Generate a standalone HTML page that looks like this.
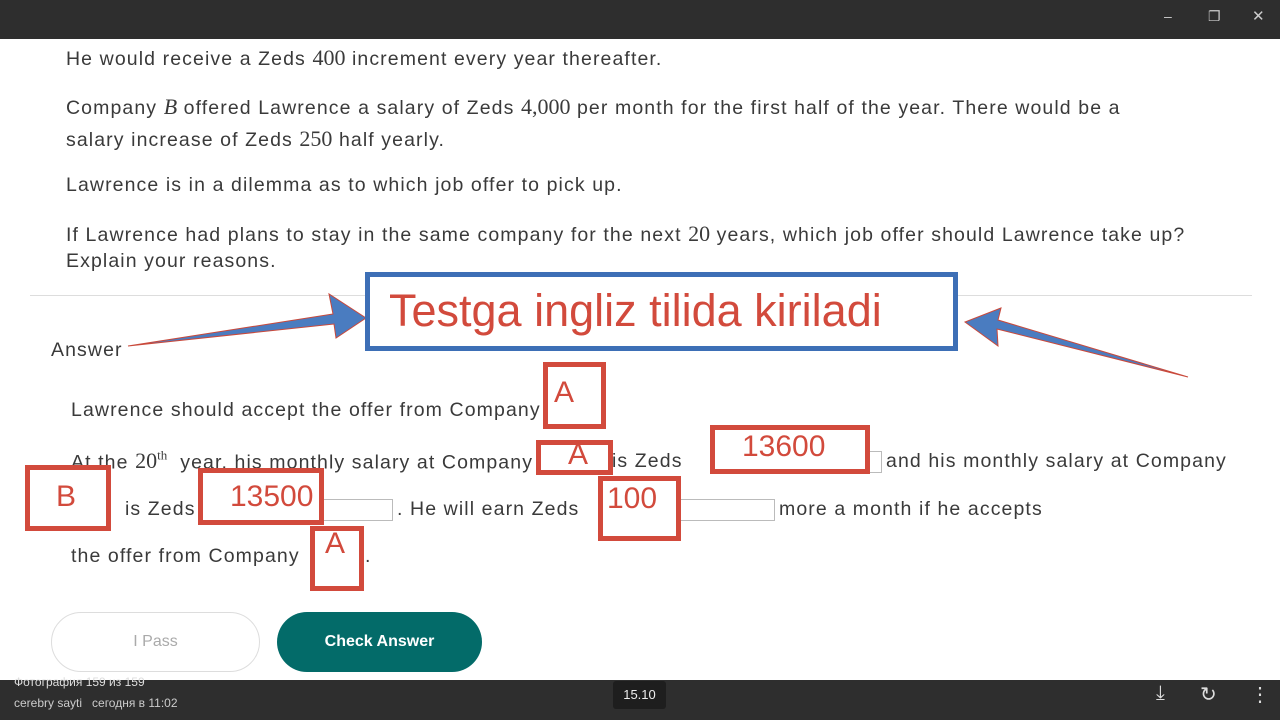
<!DOCTYPE html>
<html><head><meta charset="utf-8"><style>
*{margin:0;padding:0;box-sizing:border-box}
body{width:1280px;height:720px;overflow:hidden;background:#fff;position:relative;font-family:"Liberation Sans","Noto Sans CJK SC",sans-serif;color:#3a3a3a}
.a{position:absolute;white-space:nowrap}
.t{font-size:19.5px;letter-spacing:1.1px}
.m{font-family:"Liberation Serif",serif;font-size:22px;letter-spacing:0}
.rb{position:absolute;border:5px solid #d24a3c}
.rt{position:absolute;color:#d24a3c;font-size:30px;white-space:nowrap}
.in{position:absolute;border:1px solid #bbb;height:22px;background:#fff}
</style></head><body>
<div class="a" style="left:0;top:0;width:1280px;height:39px;background:#2e2e2e"></div>
<div class="a" style="left:1164px;top:8px;color:#ccc;font-size:14px">–</div>
<div class="a" style="left:1208px;top:8px;color:#ccc;font-size:14px">❐</div>
<div class="a" style="left:1252px;top:7px;color:#ccc;font-size:15px">✕</div>

<div class="a t" style="left:66px;top:45px">He would receive a Zeds <span class="m">400</span> increment every year thereafter.</div>
<div class="a t" style="left:66px;top:94px">Company <i class="m">B</i> offered Lawrence a salary of Zeds <span class="m">4,000</span> per month for the first half of the year. There would be a</div>
<div class="a t" style="left:66px;top:126px">salary increase of Zeds <span class="m">250</span> half yearly.</div>
<div class="a t" style="left:66px;top:174px">Lawrence is in a dilemma as to which job offer to pick up.</div>
<div class="a t" style="left:66px;top:221px">If Lawrence had plans to stay in the same company for the next <span class="m">20</span> years, which job offer should Lawrence take up?</div>
<div class="a t" style="left:66px;top:250px">Explain your reasons.</div>
<div class="a" style="left:30px;top:295px;width:1222px;height:1px;background:#ddd"></div>
<div class="a t" style="left:51px;top:339px">Answer</div>

<svg class="a" style="left:0;top:0" width="1280" height="720">
<polygon points="128,346 333,314 329,294 366,318 336,338 334,324" fill="#4a7cc0" stroke="#c9493b" stroke-width="1"/>
<polygon points="1188,377 997,329 998,346 965,322 1001,308 998,320" fill="#4a7cc0" stroke="#c9493b" stroke-width="1"/>
</svg>
<div class="a" style="left:365px;top:272px;width:593px;height:79px;border:5px solid #3d6fb6;background:#fff"></div>
<div class="a" style="left:389px;top:285px;font-size:45px;color:#d24a3c">Testga ingliz tilida kiriladi</div>

<div class="a t" style="left:71px;top:399px">Lawrence should accept the offer from Company</div>
<div class="a t" style="left:71px;top:448px">At the <span class="m">20<sup style="font-size:13px">th</sup></span> &nbsp;year, his monthly salary at Company</div>
<div class="a t" style="left:612px;top:450px">is Zeds</div>
<div class="a t" style="left:886px;top:450px">and his monthly salary at Company</div>
<div class="a t" style="left:125px;top:498px">is Zeds</div>
<div class="a t" style="left:397px;top:498px">. He will earn Zeds</div>
<div class="a t" style="left:779px;top:498px">more a month if he accepts</div>
<div class="a t" style="left:71px;top:545px">the offer from Company</div>
<div class="a t" style="left:365px;top:545px">.</div>

<div class="in" style="left:714px;top:451px;width:168px"></div>
<div class="in" style="left:210px;top:499px;width:183px"></div>
<div class="in" style="left:602px;top:499px;width:173px"></div>

<div class="rb" style="left:543px;top:362px;width:63px;height:67px;background:#fff"></div>
<div class="rt" style="left:554px;top:376px">A</div>
<div class="rb" style="left:536px;top:440px;width:77px;height:35px"></div>
<div class="rt" style="left:568px;top:438px">A</div>
<div class="rb" style="left:710px;top:425px;width:160px;height:49px;background:#fff"></div>
<div class="rt" style="left:742px;top:430px">13600</div>
<div class="rb" style="left:25px;top:465px;width:86px;height:66px;background:#fff"></div>
<div class="rt" style="left:56px;top:480px">B</div>
<div class="rb" style="left:198px;top:468px;width:126px;height:57px;background:#fff"></div>
<div class="rt" style="left:230px;top:480px">13500</div>
<div class="rb" style="left:598px;top:476px;width:83px;height:65px;background:#fff"></div>
<div class="rt" style="left:607px;top:482px">100</div>
<div class="rb" style="left:310px;top:526px;width:54px;height:65px;background:#fff"></div>
<div class="rt" style="left:325px;top:527px">A</div>

<div class="a" style="left:51px;top:612px;width:209px;height:60px;border:1px solid #ddd;border-radius:30px;text-align:center;line-height:58px;font-size:16px;color:#aaa">I Pass</div>
<div class="a" style="left:277px;top:612px;width:205px;height:60px;background:#036b69;border-radius:30px;text-align:center;line-height:60px;font-size:16px;font-weight:bold;color:#fff">Check Answer</div>

<div class="a" style="left:0;top:680px;width:1280px;height:40px;background:#2e2e2e"></div>
<div class="a" style="left:14px;top:675px;font-size:12px;color:#ddd">Фотография 159 из 159</div>
<div class="a" style="left:14px;top:696px;font-size:12px;color:#ccc">cerebry sayti &nbsp;&nbsp;сегодня в 11:02</div>
<div class="a" style="left:613px;top:681px;width:53px;height:28px;background:#1e1e1e;border-radius:3px;color:#eee;font-size:13px;text-align:center;line-height:28px">15.10</div>
<div class="a" style="left:1156px;top:682px;color:#ddd;font-size:20px">⤓</div>
<div class="a" style="left:1200px;top:682px;color:#ddd;font-size:20px">↻</div>
<div class="a" style="left:1250px;top:682px;color:#ddd;font-size:20px">⋮</div>
</body></html>
